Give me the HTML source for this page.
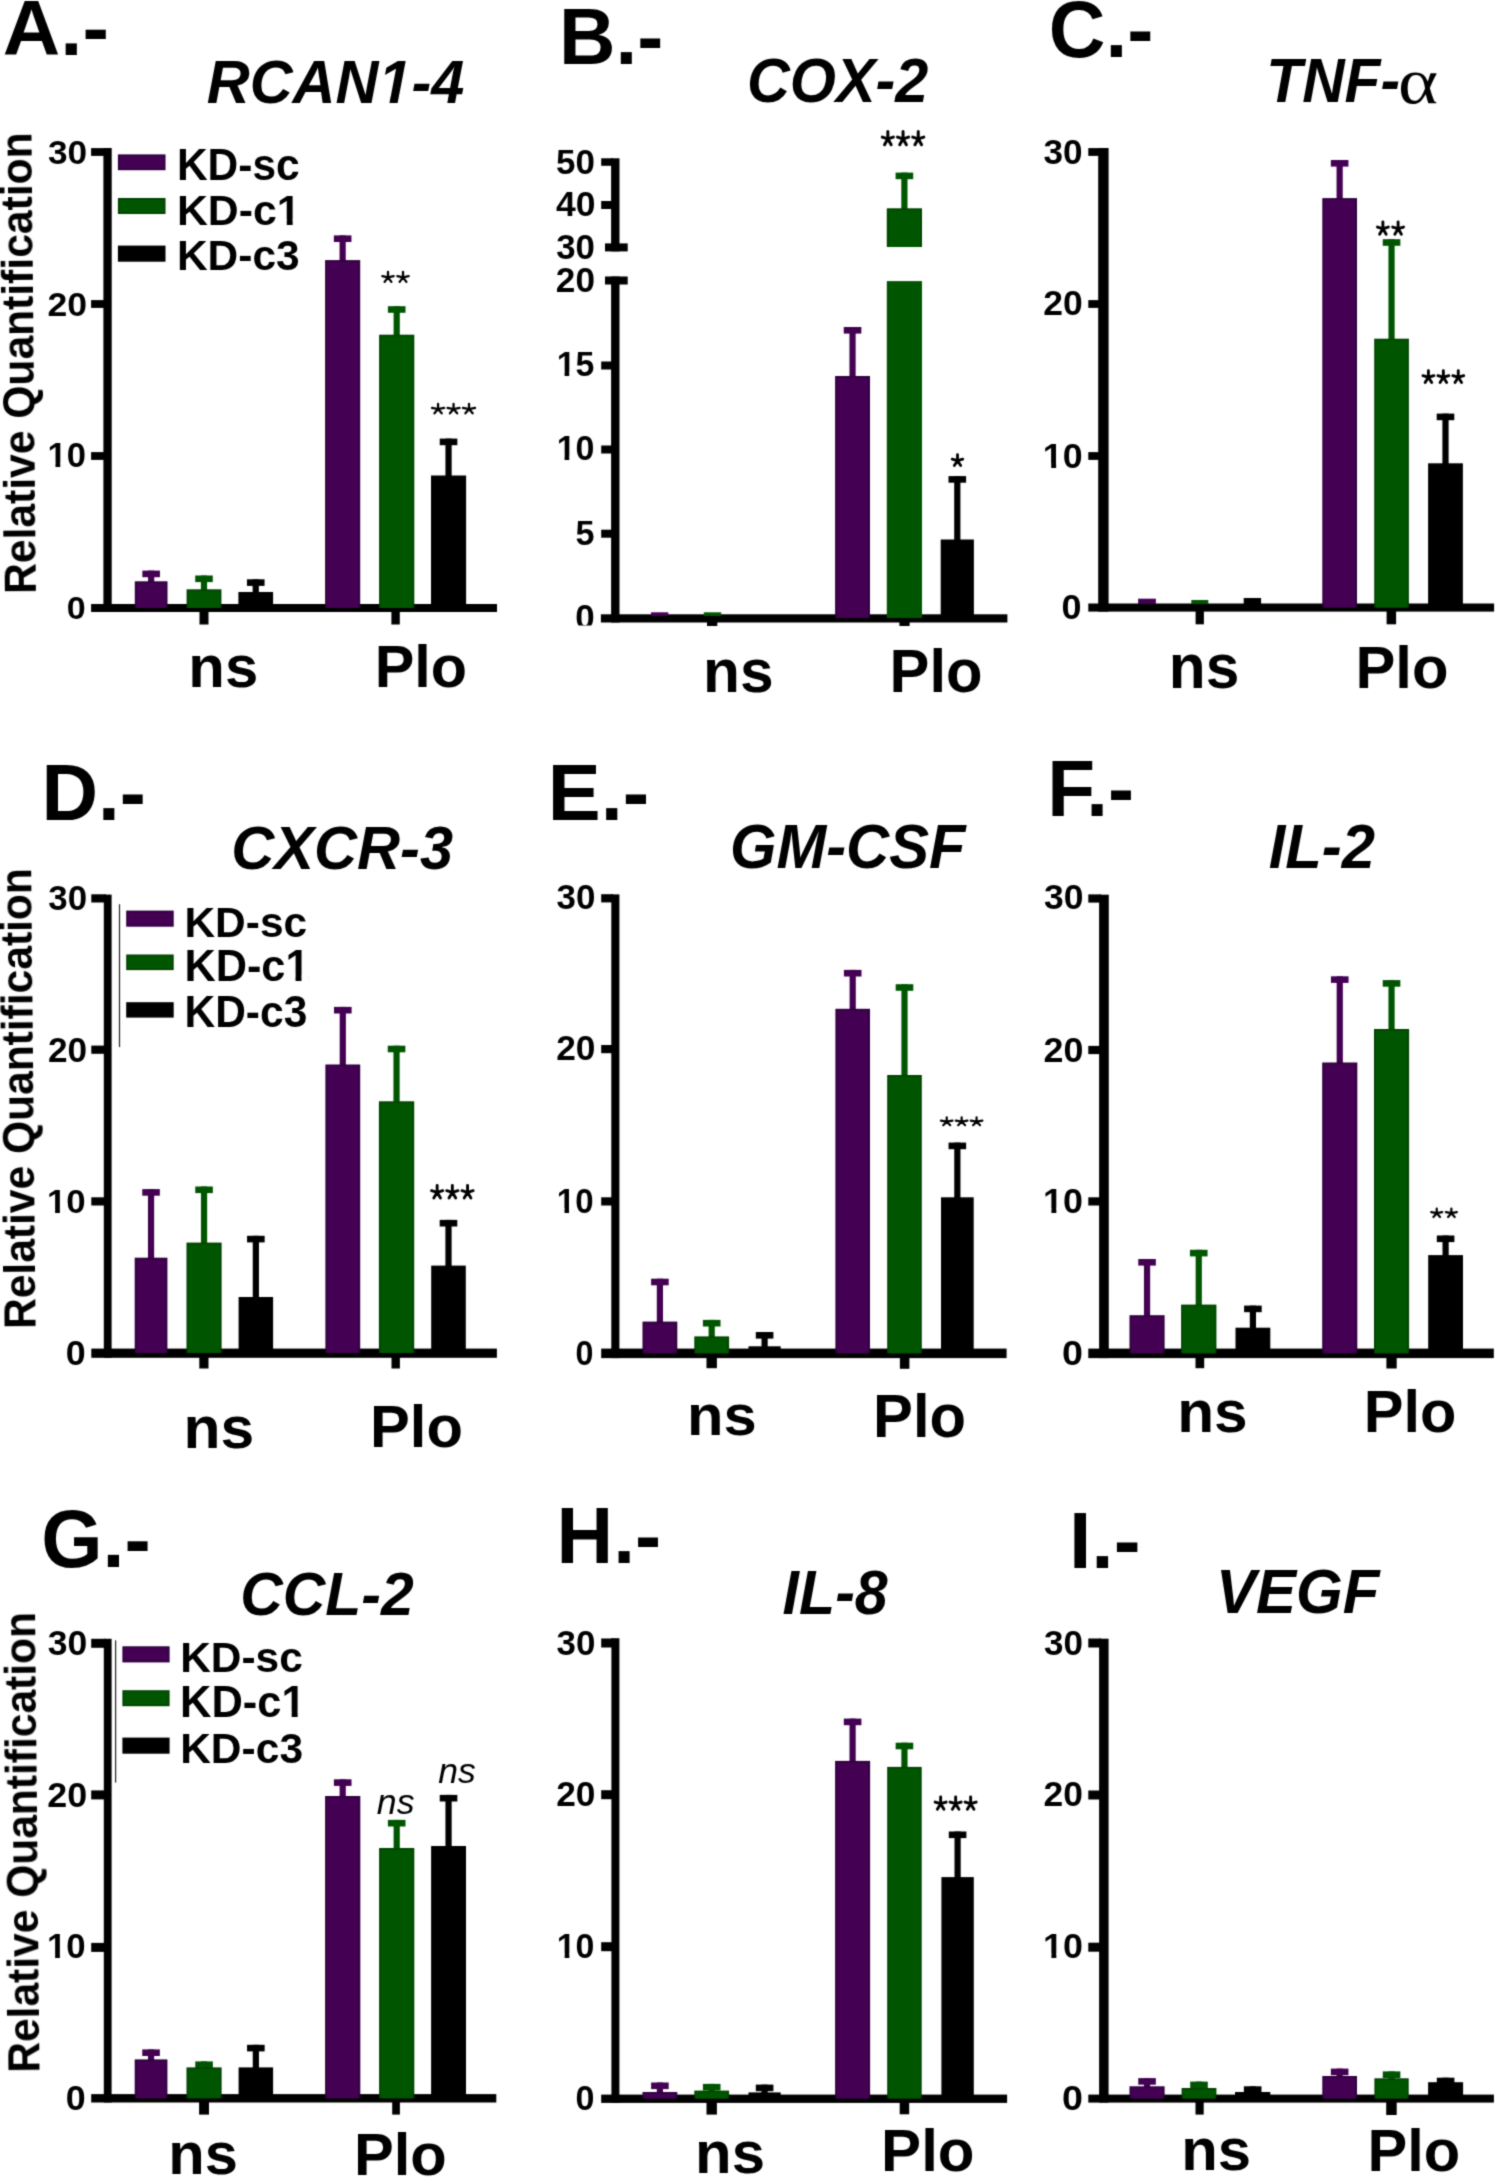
<!DOCTYPE html>
<html><head><meta charset="utf-8"><style>html,body{margin:0;padding:0;background:#fff;}svg{display:block;}</style></head>
<body><svg width="1496" height="2177" viewBox="0 0 1496 2177">
<defs><filter id="soft" x="0" y="0" width="1496" height="2177" filterUnits="userSpaceOnUse" color-interpolation-filters="sRGB"><feConvolveMatrix order="3" kernelMatrix="1 4 1 4 16 4 1 4 1" edgeMode="duplicate"/></filter></defs>
<g filter="url(#soft)">
<rect width="1496" height="2177" fill="#fff"/>
<rect x="103.40" y="148.00" width="8.30" height="464.00" fill="#000"/>
<rect x="91.10" y="148.10" width="14.30" height="7.80" fill="#000"/>
<rect x="91.10" y="300.10" width="14.30" height="7.80" fill="#000"/>
<rect x="91.10" y="452.10" width="14.30" height="7.80" fill="#000"/>
<rect x="91.10" y="604.00" width="405.90" height="8.00" fill="#000"/>
<rect x="117.90" y="154.40" width="47.60" height="15.80" fill="#2c003c"/>
<rect x="119.40" y="155.90" width="44.60" height="12.80" fill="#440052"/>
<rect x="117.90" y="198.00" width="47.60" height="16.00" fill="#004200"/>
<rect x="119.40" y="199.50" width="44.60" height="13.00" fill="#005500"/>
<rect x="117.90" y="245.60" width="47.60" height="16.10" fill="#000000"/>
<rect x="148.05" y="570.60" width="6.20" height="11.70" fill="#440052"/>
<rect x="142.35" y="570.60" width="17.60" height="6.60" fill="#440052"/>
<rect x="134.80" y="581.30" width="32.70" height="26.70" fill="#2c003c"/>
<rect x="136.30" y="582.80" width="29.70" height="25.20" fill="#440052"/>
<rect x="200.90" y="575.50" width="6.20" height="14.80" fill="#005500"/>
<rect x="195.20" y="575.50" width="17.60" height="6.60" fill="#005500"/>
<rect x="186.60" y="589.30" width="34.80" height="18.70" fill="#004200"/>
<rect x="188.10" y="590.80" width="31.80" height="17.20" fill="#005500"/>
<rect x="252.65" y="579.30" width="6.20" height="13.70" fill="#000000"/>
<rect x="246.95" y="579.30" width="17.60" height="6.60" fill="#000000"/>
<rect x="238.40" y="592.00" width="34.70" height="16.00" fill="#000000"/>
<rect x="339.55" y="235.40" width="6.20" height="25.70" fill="#440052"/>
<rect x="333.85" y="235.40" width="17.60" height="6.60" fill="#440052"/>
<rect x="325.10" y="260.10" width="35.10" height="347.90" fill="#2c003c"/>
<rect x="326.60" y="261.60" width="32.10" height="346.40" fill="#440052"/>
<rect x="393.60" y="306.20" width="6.20" height="29.50" fill="#005500"/>
<rect x="387.90" y="306.20" width="17.60" height="6.60" fill="#005500"/>
<rect x="379.10" y="334.70" width="35.20" height="273.30" fill="#004200"/>
<rect x="380.60" y="336.20" width="32.20" height="271.80" fill="#005500"/>
<rect x="445.45" y="438.60" width="6.20" height="37.90" fill="#000000"/>
<rect x="439.75" y="438.60" width="17.60" height="6.60" fill="#000000"/>
<rect x="431.00" y="475.50" width="35.10" height="132.50" fill="#000000"/>
<rect x="199.50" y="612.00" width="9.00" height="12.50" fill="#000"/>
<rect x="391.40" y="612.00" width="8.40" height="12.50" fill="#000"/>
<rect x="611.10" y="158.30" width="8.40" height="93.10" fill="#000"/>
<rect x="611.10" y="276.50" width="8.40" height="346.00" fill="#000"/>
<rect x="601.20" y="158.30" width="11.90" height="7.50" fill="#000"/>
<rect x="601.20" y="201.00" width="11.90" height="8.00" fill="#000"/>
<rect x="605.00" y="243.40" width="22.70" height="8.00" fill="#000"/>
<rect x="605.00" y="276.50" width="22.70" height="8.00" fill="#000"/>
<rect x="601.20" y="361.50" width="11.90" height="8.00" fill="#000"/>
<rect x="601.20" y="445.50" width="11.90" height="8.00" fill="#000"/>
<rect x="601.20" y="529.70" width="11.90" height="8.00" fill="#000"/>
<rect x="600.90" y="614.30" width="406.50" height="8.20" fill="#000"/>
<rect x="651.00" y="612.30" width="17.30" height="3.70" fill="#440052"/>
<rect x="703.80" y="612.30" width="17.40" height="3.70" fill="#005500"/>
<rect x="849.45" y="327.00" width="6.20" height="50.00" fill="#440052"/>
<rect x="843.75" y="327.00" width="17.60" height="6.60" fill="#440052"/>
<rect x="835.10" y="376.00" width="34.90" height="242.00" fill="#2c003c"/>
<rect x="836.60" y="377.50" width="31.90" height="240.50" fill="#440052"/>
<rect x="886.80" y="281.10" width="35.20" height="336.90" fill="#005500"/>
<rect x="901.30" y="172.60" width="6.20" height="36.70" fill="#005500"/>
<rect x="895.60" y="172.60" width="17.60" height="6.60" fill="#005500"/>
<rect x="886.80" y="208.30" width="35.20" height="38.70" fill="#004200"/>
<rect x="888.30" y="209.80" width="32.20" height="37.20" fill="#005500"/>
<rect x="954.20" y="476.10" width="6.20" height="64.40" fill="#000000"/>
<rect x="948.50" y="476.10" width="17.60" height="6.60" fill="#000000"/>
<rect x="940.70" y="539.50" width="33.20" height="78.50" fill="#000000"/>
<rect x="707.00" y="622.00" width="10.30" height="4.00" fill="#000"/>
<rect x="899.40" y="622.00" width="10.20" height="4.00" fill="#000"/>
<rect x="1098.20" y="148.00" width="10.40" height="463.60" fill="#000"/>
<rect x="1088.30" y="148.10" width="11.90" height="7.80" fill="#000"/>
<rect x="1088.30" y="300.10" width="11.90" height="7.80" fill="#000"/>
<rect x="1088.30" y="452.10" width="11.90" height="7.80" fill="#000"/>
<rect x="1088.30" y="603.50" width="405.80" height="8.10" fill="#000"/>
<rect x="1138.10" y="598.70" width="17.80" height="5.30" fill="#440052"/>
<rect x="1191.30" y="600.00" width="17.00" height="4.00" fill="#005500"/>
<rect x="1243.70" y="598.00" width="17.40" height="6.00" fill="#000000"/>
<rect x="1336.55" y="160.00" width="6.20" height="39.10" fill="#440052"/>
<rect x="1330.85" y="160.00" width="17.60" height="6.60" fill="#440052"/>
<rect x="1322.30" y="198.10" width="34.70" height="409.40" fill="#2c003c"/>
<rect x="1323.80" y="199.60" width="31.70" height="407.90" fill="#440052"/>
<rect x="1388.45" y="239.20" width="6.20" height="100.50" fill="#005500"/>
<rect x="1382.75" y="239.20" width="17.60" height="6.60" fill="#005500"/>
<rect x="1374.20" y="338.70" width="34.70" height="268.80" fill="#004200"/>
<rect x="1375.70" y="340.20" width="31.70" height="267.30" fill="#005500"/>
<rect x="1442.40" y="413.60" width="6.20" height="50.70" fill="#000000"/>
<rect x="1436.70" y="413.60" width="17.60" height="6.60" fill="#000000"/>
<rect x="1428.10" y="463.30" width="34.80" height="144.20" fill="#000000"/>
<rect x="1195.60" y="611.00" width="8.30" height="13.30" fill="#000"/>
<rect x="1386.60" y="611.00" width="9.50" height="13.30" fill="#000"/>
<rect x="103.80" y="894.60" width="7.80" height="463.20" fill="#000"/>
<rect x="91.30" y="894.30" width="14.50" height="8.20" fill="#000"/>
<rect x="91.30" y="1045.60" width="14.50" height="8.20" fill="#000"/>
<rect x="91.30" y="1197.30" width="14.50" height="8.20" fill="#000"/>
<rect x="91.30" y="1348.60" width="405.60" height="9.20" fill="#000"/>
<rect x="126.20" y="910.60" width="47.50" height="16.10" fill="#2c003c"/>
<rect x="127.70" y="912.10" width="44.50" height="13.10" fill="#440052"/>
<rect x="126.20" y="954.50" width="47.50" height="15.60" fill="#004200"/>
<rect x="127.70" y="956.00" width="44.50" height="12.60" fill="#005500"/>
<rect x="126.20" y="1002.20" width="47.50" height="15.40" fill="#000000"/>
<rect x="118.90" y="904.20" width="1.20" height="142.90" fill="#222"/>
<rect x="147.95" y="1189.10" width="6.20" height="69.60" fill="#440052"/>
<rect x="142.25" y="1189.10" width="17.60" height="6.60" fill="#440052"/>
<rect x="134.70" y="1257.70" width="32.70" height="95.30" fill="#2c003c"/>
<rect x="136.20" y="1259.20" width="29.70" height="93.80" fill="#440052"/>
<rect x="200.95" y="1186.50" width="6.20" height="57.10" fill="#005500"/>
<rect x="195.25" y="1186.50" width="17.60" height="6.60" fill="#005500"/>
<rect x="186.50" y="1242.60" width="35.10" height="110.40" fill="#004200"/>
<rect x="188.00" y="1244.10" width="32.10" height="108.90" fill="#005500"/>
<rect x="252.75" y="1235.80" width="6.20" height="62.20" fill="#000000"/>
<rect x="247.05" y="1235.80" width="17.60" height="6.60" fill="#000000"/>
<rect x="238.60" y="1297.00" width="34.50" height="56.00" fill="#000000"/>
<rect x="339.70" y="1006.90" width="6.20" height="58.60" fill="#440052"/>
<rect x="334.00" y="1006.90" width="17.60" height="6.60" fill="#440052"/>
<rect x="325.40" y="1064.50" width="34.80" height="288.50" fill="#2c003c"/>
<rect x="326.90" y="1066.00" width="31.80" height="287.00" fill="#440052"/>
<rect x="393.45" y="1045.70" width="6.20" height="56.60" fill="#005500"/>
<rect x="387.75" y="1045.70" width="17.60" height="6.60" fill="#005500"/>
<rect x="378.90" y="1101.30" width="35.30" height="251.70" fill="#004200"/>
<rect x="380.40" y="1102.80" width="32.30" height="250.20" fill="#005500"/>
<rect x="445.40" y="1219.90" width="6.20" height="46.70" fill="#000000"/>
<rect x="439.70" y="1219.90" width="17.60" height="6.60" fill="#000000"/>
<rect x="431.20" y="1265.60" width="34.60" height="87.40" fill="#000000"/>
<rect x="199.30" y="1357.00" width="9.20" height="11.50" fill="#000"/>
<rect x="391.50" y="1357.00" width="8.40" height="11.50" fill="#000"/>
<rect x="611.30" y="894.40" width="8.10" height="463.70" fill="#000"/>
<rect x="601.20" y="894.20" width="12.10" height="8.20" fill="#000"/>
<rect x="601.20" y="1045.00" width="12.10" height="8.20" fill="#000"/>
<rect x="601.20" y="1197.30" width="12.10" height="8.20" fill="#000"/>
<rect x="601.20" y="1348.60" width="405.40" height="9.50" fill="#000"/>
<rect x="656.80" y="1278.70" width="6.20" height="43.90" fill="#440052"/>
<rect x="651.10" y="1278.70" width="17.60" height="6.60" fill="#440052"/>
<rect x="642.50" y="1321.60" width="34.80" height="31.70" fill="#2c003c"/>
<rect x="644.00" y="1323.10" width="31.80" height="30.20" fill="#440052"/>
<rect x="708.60" y="1319.90" width="6.20" height="17.50" fill="#005500"/>
<rect x="702.90" y="1319.90" width="17.60" height="6.60" fill="#005500"/>
<rect x="694.30" y="1336.40" width="34.80" height="16.90" fill="#004200"/>
<rect x="695.80" y="1337.90" width="31.80" height="15.40" fill="#005500"/>
<rect x="761.50" y="1332.00" width="6.20" height="15.30" fill="#000000"/>
<rect x="755.80" y="1332.00" width="17.60" height="6.60" fill="#000000"/>
<rect x="748.50" y="1346.30" width="32.20" height="7.00" fill="#000000"/>
<rect x="849.60" y="969.90" width="6.20" height="39.90" fill="#440052"/>
<rect x="843.90" y="969.90" width="17.60" height="6.60" fill="#440052"/>
<rect x="835.40" y="1008.80" width="34.60" height="344.50" fill="#2c003c"/>
<rect x="836.90" y="1010.30" width="31.60" height="343.00" fill="#440052"/>
<rect x="901.40" y="984.20" width="6.20" height="91.80" fill="#005500"/>
<rect x="895.70" y="984.20" width="17.60" height="6.60" fill="#005500"/>
<rect x="887.20" y="1075.00" width="34.60" height="278.30" fill="#004200"/>
<rect x="888.70" y="1076.50" width="31.60" height="276.80" fill="#005500"/>
<rect x="954.25" y="1142.60" width="6.20" height="55.70" fill="#000000"/>
<rect x="948.55" y="1142.60" width="17.60" height="6.60" fill="#000000"/>
<rect x="941.00" y="1197.30" width="32.70" height="156.00" fill="#000000"/>
<rect x="706.50" y="1357.00" width="10.40" height="11.20" fill="#000"/>
<rect x="899.90" y="1357.00" width="9.50" height="11.80" fill="#000"/>
<rect x="1099.10" y="894.70" width="9.70" height="463.40" fill="#000"/>
<rect x="1088.30" y="894.40" width="12.80" height="8.20" fill="#000"/>
<rect x="1088.30" y="1045.90" width="12.80" height="8.20" fill="#000"/>
<rect x="1088.30" y="1197.30" width="12.80" height="8.20" fill="#000"/>
<rect x="1088.30" y="1348.60" width="405.50" height="9.50" fill="#000"/>
<rect x="1143.95" y="1259.00" width="6.20" height="57.20" fill="#440052"/>
<rect x="1138.25" y="1259.00" width="17.60" height="6.60" fill="#440052"/>
<rect x="1129.50" y="1315.20" width="35.10" height="38.10" fill="#2c003c"/>
<rect x="1131.00" y="1316.70" width="32.10" height="36.60" fill="#440052"/>
<rect x="1195.65" y="1249.80" width="6.20" height="55.80" fill="#005500"/>
<rect x="1189.95" y="1249.80" width="17.60" height="6.60" fill="#005500"/>
<rect x="1181.10" y="1304.60" width="35.30" height="48.70" fill="#004200"/>
<rect x="1182.60" y="1306.10" width="32.30" height="47.20" fill="#005500"/>
<rect x="1249.80" y="1305.60" width="6.20" height="23.10" fill="#000000"/>
<rect x="1244.10" y="1305.60" width="17.60" height="6.60" fill="#000000"/>
<rect x="1235.50" y="1327.70" width="34.80" height="25.60" fill="#000000"/>
<rect x="1336.65" y="976.30" width="6.20" height="87.20" fill="#440052"/>
<rect x="1330.95" y="976.30" width="17.60" height="6.60" fill="#440052"/>
<rect x="1322.20" y="1062.50" width="35.10" height="290.80" fill="#2c003c"/>
<rect x="1323.70" y="1064.00" width="32.10" height="289.30" fill="#440052"/>
<rect x="1388.45" y="980.10" width="6.20" height="49.90" fill="#005500"/>
<rect x="1382.75" y="980.10" width="17.60" height="6.60" fill="#005500"/>
<rect x="1374.00" y="1029.00" width="35.10" height="324.30" fill="#004200"/>
<rect x="1375.50" y="1030.50" width="32.10" height="322.80" fill="#005500"/>
<rect x="1442.50" y="1235.50" width="6.20" height="20.60" fill="#000000"/>
<rect x="1436.80" y="1235.50" width="17.60" height="6.60" fill="#000000"/>
<rect x="1428.20" y="1255.10" width="34.80" height="98.20" fill="#000000"/>
<rect x="1195.50" y="1357.00" width="8.70" height="11.20" fill="#000"/>
<rect x="1386.40" y="1357.00" width="10.30" height="11.50" fill="#000"/>
<rect x="103.80" y="1638.80" width="7.80" height="463.70" fill="#000"/>
<rect x="91.20" y="1638.80" width="14.60" height="9.00" fill="#000"/>
<rect x="91.20" y="1790.40" width="14.60" height="9.00" fill="#000"/>
<rect x="91.20" y="1942.90" width="14.60" height="9.00" fill="#000"/>
<rect x="91.20" y="2094.10" width="405.10" height="8.40" fill="#000"/>
<rect x="122.40" y="1646.30" width="47.20" height="16.10" fill="#2c003c"/>
<rect x="123.90" y="1647.80" width="44.20" height="13.10" fill="#440052"/>
<rect x="122.40" y="1690.20" width="47.20" height="16.00" fill="#004200"/>
<rect x="123.90" y="1691.70" width="44.20" height="13.00" fill="#005500"/>
<rect x="122.40" y="1737.60" width="47.20" height="16.10" fill="#000000"/>
<rect x="115.00" y="1640.30" width="1.20" height="142.30" fill="#222"/>
<rect x="147.95" y="2049.40" width="6.20" height="11.00" fill="#440052"/>
<rect x="142.25" y="2049.40" width="17.60" height="6.60" fill="#440052"/>
<rect x="134.70" y="2059.40" width="32.70" height="38.90" fill="#2c003c"/>
<rect x="136.20" y="2060.90" width="29.70" height="37.40" fill="#440052"/>
<rect x="200.95" y="2061.40" width="6.20" height="7.00" fill="#005500"/>
<rect x="195.25" y="2061.40" width="17.60" height="6.60" fill="#005500"/>
<rect x="186.50" y="2067.40" width="35.10" height="30.90" fill="#004200"/>
<rect x="188.00" y="2068.90" width="32.10" height="29.40" fill="#005500"/>
<rect x="252.75" y="2044.80" width="6.20" height="23.60" fill="#000000"/>
<rect x="247.05" y="2044.80" width="17.60" height="6.60" fill="#000000"/>
<rect x="238.60" y="2067.40" width="34.50" height="30.90" fill="#000000"/>
<rect x="339.60" y="1779.30" width="6.20" height="17.70" fill="#440052"/>
<rect x="333.90" y="1779.30" width="17.60" height="6.60" fill="#440052"/>
<rect x="325.10" y="1796.00" width="35.20" height="302.30" fill="#2c003c"/>
<rect x="326.60" y="1797.50" width="32.20" height="300.80" fill="#440052"/>
<rect x="393.60" y="1819.90" width="6.20" height="29.10" fill="#005500"/>
<rect x="387.90" y="1819.90" width="17.60" height="6.60" fill="#005500"/>
<rect x="379.10" y="1848.00" width="35.20" height="250.30" fill="#004200"/>
<rect x="380.60" y="1849.50" width="32.20" height="248.80" fill="#005500"/>
<rect x="445.45" y="1794.90" width="6.20" height="52.10" fill="#000000"/>
<rect x="439.75" y="1794.90" width="17.60" height="6.60" fill="#000000"/>
<rect x="431.10" y="1846.00" width="34.90" height="252.30" fill="#000000"/>
<rect x="199.10" y="2102.00" width="9.90" height="12.60" fill="#000"/>
<rect x="392.20" y="2102.00" width="7.70" height="12.60" fill="#000"/>
<rect x="611.40" y="1638.20" width="8.00" height="464.70" fill="#000"/>
<rect x="601.20" y="1638.50" width="12.20" height="9.00" fill="#000"/>
<rect x="601.20" y="1790.20" width="12.20" height="9.00" fill="#000"/>
<rect x="601.20" y="1942.20" width="12.20" height="9.00" fill="#000"/>
<rect x="601.20" y="2094.60" width="405.90" height="8.30" fill="#000"/>
<rect x="656.80" y="2082.50" width="6.20" height="10.50" fill="#440052"/>
<rect x="651.10" y="2082.50" width="17.60" height="6.60" fill="#440052"/>
<rect x="642.50" y="2092.00" width="34.80" height="6.50" fill="#2c003c"/>
<rect x="644.00" y="2093.50" width="31.80" height="5.00" fill="#440052"/>
<rect x="708.60" y="2083.90" width="6.20" height="7.70" fill="#005500"/>
<rect x="702.90" y="2083.90" width="17.60" height="6.60" fill="#005500"/>
<rect x="694.30" y="2090.60" width="34.80" height="7.90" fill="#004200"/>
<rect x="695.80" y="2092.10" width="31.80" height="6.40" fill="#005500"/>
<rect x="761.50" y="2084.60" width="6.20" height="8.80" fill="#000000"/>
<rect x="755.80" y="2084.60" width="17.60" height="6.60" fill="#000000"/>
<rect x="748.50" y="2092.40" width="32.20" height="6.10" fill="#000000"/>
<rect x="849.50" y="1718.60" width="6.20" height="43.30" fill="#440052"/>
<rect x="843.80" y="1718.60" width="17.60" height="6.60" fill="#440052"/>
<rect x="835.10" y="1760.90" width="35.00" height="337.60" fill="#2c003c"/>
<rect x="836.60" y="1762.40" width="32.00" height="336.10" fill="#440052"/>
<rect x="901.35" y="1742.70" width="6.20" height="25.20" fill="#005500"/>
<rect x="895.65" y="1742.70" width="17.60" height="6.60" fill="#005500"/>
<rect x="887.20" y="1766.90" width="34.50" height="331.60" fill="#004200"/>
<rect x="888.70" y="1768.40" width="31.50" height="330.10" fill="#005500"/>
<rect x="954.50" y="1831.50" width="6.20" height="46.60" fill="#000000"/>
<rect x="948.80" y="1831.50" width="17.60" height="6.60" fill="#000000"/>
<rect x="941.40" y="1877.10" width="32.40" height="221.40" fill="#000000"/>
<rect x="706.50" y="2102.00" width="10.40" height="12.60" fill="#000"/>
<rect x="899.70" y="2102.00" width="9.50" height="12.30" fill="#000"/>
<rect x="1099.10" y="1638.70" width="9.50" height="463.90" fill="#000"/>
<rect x="1088.30" y="1638.50" width="12.80" height="9.00" fill="#000"/>
<rect x="1088.30" y="1790.50" width="12.80" height="9.00" fill="#000"/>
<rect x="1088.30" y="1942.70" width="12.80" height="9.00" fill="#000"/>
<rect x="1088.30" y="2094.60" width="405.60" height="8.00" fill="#000"/>
<rect x="1143.95" y="2078.10" width="6.20" height="9.20" fill="#440052"/>
<rect x="1138.25" y="2078.10" width="17.60" height="6.60" fill="#440052"/>
<rect x="1129.50" y="2086.30" width="35.10" height="12.20" fill="#2c003c"/>
<rect x="1131.00" y="2087.80" width="32.10" height="10.70" fill="#440052"/>
<rect x="1195.90" y="2081.60" width="6.20" height="7.40" fill="#005500"/>
<rect x="1190.20" y="2081.60" width="17.60" height="6.60" fill="#005500"/>
<rect x="1181.60" y="2088.00" width="34.80" height="10.50" fill="#004200"/>
<rect x="1183.10" y="2089.50" width="31.80" height="9.00" fill="#005500"/>
<rect x="1249.55" y="2086.30" width="6.20" height="6.70" fill="#000000"/>
<rect x="1243.85" y="2086.30" width="17.60" height="6.60" fill="#000000"/>
<rect x="1235.00" y="2092.00" width="35.30" height="6.50" fill="#000000"/>
<rect x="1336.55" y="2068.60" width="6.20" height="8.40" fill="#440052"/>
<rect x="1330.85" y="2068.60" width="17.60" height="6.60" fill="#440052"/>
<rect x="1322.30" y="2076.00" width="34.70" height="22.50" fill="#2c003c"/>
<rect x="1323.80" y="2077.50" width="31.70" height="21.00" fill="#440052"/>
<rect x="1388.45" y="2071.40" width="6.20" height="7.90" fill="#005500"/>
<rect x="1382.75" y="2071.40" width="17.60" height="6.60" fill="#005500"/>
<rect x="1374.40" y="2078.30" width="34.30" height="20.20" fill="#004200"/>
<rect x="1375.90" y="2079.80" width="31.30" height="18.70" fill="#005500"/>
<rect x="1442.50" y="2077.70" width="6.20" height="5.50" fill="#000000"/>
<rect x="1436.80" y="2077.70" width="17.60" height="6.60" fill="#000000"/>
<rect x="1428.10" y="2082.20" width="35.00" height="16.30" fill="#000000"/>
<rect x="1195.50" y="2102.00" width="8.20" height="12.60" fill="#000"/>
<rect x="1386.20" y="2102.00" width="10.50" height="13.00" fill="#000"/>
<g style="filter:grayscale(1)">
<text transform="translate(2.81,55.20) scale(1.0248,1)" font-family="Liberation Sans" font-size="77.68" font-weight="bold" font-style="normal" fill="#000" >A.-</text>
<text transform="translate(206.71,102.68) scale(0.9617,1)" font-family="Liberation Sans" font-size="61.83" font-weight="bold" font-style="italic" fill="#000" >RCAN1-4</text>
<text transform="translate(35.90,593.77) rotate(-90.553) scale(0.9706,1)" font-family="Liberation Sans" font-size="43.91" font-weight="bold">Relative Quantification</text>
<text transform="translate(47.92,163.66) scale(1.0418,1)" font-family="Liberation Sans" font-size="33.80" font-weight="bold" font-style="normal" fill="#000" >30</text>
<text transform="translate(47.56,315.66) scale(1.0519,1)" font-family="Liberation Sans" font-size="33.80" font-weight="bold" font-style="normal" fill="#000" >20</text>
<text transform="translate(47.43,467.15) scale(0.9893,1)" font-family="Liberation Sans" font-size="34.93" font-weight="bold" font-style="normal" fill="#000" >10</text>
<text transform="translate(66.84,618.78) scale(1.0667,1)" font-family="Liberation Sans" font-size="31.97" font-weight="bold" font-style="normal" fill="#000" >0</text>
<text transform="translate(176.94,180.16) scale(0.9715,1)" font-family="Liberation Sans" font-size="43.71" font-weight="bold" font-style="normal" fill="#000" >KD-sc</text>
<text transform="translate(176.92,225.07) scale(0.9921,1)" font-family="Liberation Sans" font-size="43.14" font-weight="bold" font-style="normal" fill="#000" >KD-c1</text>
<text transform="translate(176.94,270.17) scale(0.9952,1)" font-family="Liberation Sans" font-size="42.68" font-weight="bold" font-style="normal" fill="#000" >KD-c3</text>
<text transform="translate(188.31,687.11) scale(1.0076,1)" font-family="Liberation Sans" font-size="59.45" font-weight="bold" font-style="normal" fill="#000" >ns</text>
<text transform="translate(374.74,687.31) scale(1.0103,1)" font-family="Liberation Sans" font-size="58.78" font-weight="bold" font-style="normal" fill="#000" >Plo</text>
<path d="M387.99,277.35L387.99,271.85M387.99,277.35L382.35,276.05M387.99,277.35L393.63,276.05M387.99,277.35L384.61,281.85M387.99,277.35L391.38,281.85" stroke="#000" stroke-width="2.3" stroke-linecap="round" fill="none"/>
<path d="M403.01,277.35L403.01,271.85M403.01,277.35L397.36,276.05M403.01,277.35L408.65,276.05M403.01,277.35L399.62,281.85M403.01,277.35L406.39,281.85" stroke="#000" stroke-width="2.3" stroke-linecap="round" fill="none"/>
<path d="M438.07,409.12L438.07,403.95M438.07,409.12L432.05,407.90M438.07,409.12L444.09,407.90M438.07,409.12L434.46,413.35M438.07,409.12L441.69,413.35" stroke="#000" stroke-width="2.3" stroke-linecap="round" fill="none"/>
<path d="M453.55,409.12L453.55,403.95M453.55,409.12L447.53,407.90M453.55,409.12L459.57,407.90M453.55,409.12L449.94,413.35M453.55,409.12L457.16,413.35" stroke="#000" stroke-width="2.3" stroke-linecap="round" fill="none"/>
<path d="M469.03,409.12L469.03,403.95M469.03,409.12L463.00,407.90M469.03,409.12L475.05,407.90M469.03,409.12L465.41,413.35M469.03,409.12L472.64,413.35" stroke="#000" stroke-width="2.3" stroke-linecap="round" fill="none"/>
<text transform="translate(559.02,64.20) scale(0.9848,1)" font-family="Liberation Sans" font-size="79.42" font-weight="bold" font-style="normal" fill="#000" >B.-</text>
<text transform="translate(746.93,102.28) scale(0.9558,1)" font-family="Liberation Sans" font-size="62.11" font-weight="bold" font-style="italic" fill="#000" >COX-2</text>
<text transform="translate(556.05,174.05) scale(1.0102,1)" font-family="Liberation Sans" font-size="34.65" font-weight="bold" font-style="normal" fill="#000" >50</text>
<text transform="translate(556.07,215.75) scale(1.0232,1)" font-family="Liberation Sans" font-size="34.65" font-weight="bold" font-style="normal" fill="#000" >40</text>
<text transform="translate(556.23,258.55) scale(0.9814,1)" font-family="Liberation Sans" font-size="35.49" font-weight="bold" font-style="normal" fill="#000" >30</text>
<text transform="translate(555.87,292.25) scale(0.9909,1)" font-family="Liberation Sans" font-size="35.49" font-weight="bold" font-style="normal" fill="#000" >20</text>
<text transform="translate(556.66,376.15) scale(0.9700,1)" font-family="Liberation Sans" font-size="35.00" font-weight="bold" font-style="normal" fill="#000" >15</text>
<text transform="translate(556.66,460.15) scale(0.9802,1)" font-family="Liberation Sans" font-size="34.65" font-weight="bold" font-style="normal" fill="#000" >10</text>
<text transform="translate(575.57,545.35) scale(0.9653,1)" font-family="Liberation Sans" font-size="35.43" font-weight="bold" font-style="normal" fill="#000" >5</text>
<clipPath id="c0"><rect x="560" y="590" width="40" height="35.6"/></clipPath>
<g clip-path="url(#c0)">
<text transform="translate(575.20,628.95) scale(1.0086,1)" font-family="Liberation Sans" font-size="34.65" font-weight="bold" font-style="normal" fill="#000" >0</text>
</g>
<text transform="translate(702.97,691.59) scale(0.9958,1)" font-family="Liberation Sans" font-size="60.73" font-weight="bold" font-style="normal" fill="#000" >ns</text>
<text transform="translate(889.61,691.89) scale(0.9854,1)" font-family="Liberation Sans" font-size="60.68" font-weight="bold" font-style="normal" fill="#000" >Plo</text>
<path d="M887.85,138.81L887.85,131.50M887.85,138.81L882.30,137.09M887.85,138.81L893.39,137.09M887.85,138.81L884.52,144.80M887.85,138.81L891.17,144.80" stroke="#000" stroke-width="3.0" stroke-linecap="round" fill="none"/>
<path d="M903.05,138.81L903.05,131.50M903.05,138.81L897.50,137.09M903.05,138.81L908.60,137.09M903.05,138.81L899.72,144.80M903.05,138.81L906.38,144.80" stroke="#000" stroke-width="3.0" stroke-linecap="round" fill="none"/>
<path d="M918.25,138.81L918.25,131.50M918.25,138.81L912.71,137.09M918.25,138.81L923.80,137.09M918.25,138.81L914.93,144.80M918.25,138.81L921.58,144.80" stroke="#000" stroke-width="3.0" stroke-linecap="round" fill="none"/>
<path d="M957.50,460.65L957.50,454.60M957.50,460.65L952.20,459.22M957.50,460.65L962.80,459.22M957.50,460.65L954.32,465.60M957.50,460.65L960.68,465.60" stroke="#000" stroke-width="2.8" stroke-linecap="round" fill="none"/>
<text transform="translate(1048.86,57.10) scale(0.9828,1)" font-family="Liberation Sans" font-size="79.86" font-weight="bold" font-style="normal" fill="#000" >C.-</text>
<text transform="translate(1266.29,102.40) scale(0.9466,1)" font-family="Liberation Sans" font-size="62.03" font-weight="bold" font-style="italic" fill="#000" >TNF-</text>
<text transform="translate(1397.94,103.45) scale(1.1810,1)" font-family="Liberation Serif" font-size="64.79" font-weight="normal" font-style="normal" fill="#000" >α</text>
<text transform="translate(1043.52,163.65) scale(1.0014,1)" font-family="Liberation Sans" font-size="35.07" font-weight="bold" font-style="normal" fill="#000" >30</text>
<text transform="translate(1043.16,315.25) scale(1.0234,1)" font-family="Liberation Sans" font-size="34.65" font-weight="bold" font-style="normal" fill="#000" >20</text>
<text transform="translate(1042.86,467.65) scale(1.0358,1)" font-family="Liberation Sans" font-size="34.51" font-weight="bold" font-style="normal" fill="#000" >10</text>
<text transform="translate(1061.56,619.05) scale(1.0390,1)" font-family="Liberation Sans" font-size="34.65" font-weight="bold" font-style="normal" fill="#000" >0</text>
<text transform="translate(1168.78,687.67) scale(0.9598,1)" font-family="Liberation Sans" font-size="62.91" font-weight="bold" font-style="normal" fill="#000" >ns</text>
<text transform="translate(1355.41,687.70) scale(1.0011,1)" font-family="Liberation Sans" font-size="59.73" font-weight="bold" font-style="normal" fill="#000" >Plo</text>
<path d="M1382.89,228.61L1382.89,221.85M1382.89,228.61L1377.45,227.02M1382.89,228.61L1388.33,227.02M1382.89,228.61L1379.62,234.15M1382.89,228.61L1386.15,234.15" stroke="#000" stroke-width="2.9" stroke-linecap="round" fill="none"/>
<path d="M1398.11,228.61L1398.11,221.85M1398.11,228.61L1392.67,227.02M1398.11,228.61L1403.55,227.02M1398.11,228.61L1394.85,234.15M1398.11,228.61L1401.38,234.15" stroke="#000" stroke-width="2.9" stroke-linecap="round" fill="none"/>
<path d="M1428.42,377.24L1428.42,370.75M1428.42,377.24L1422.95,375.71M1428.42,377.24L1433.89,375.71M1428.42,377.24L1425.14,382.55M1428.42,377.24L1431.70,382.55" stroke="#000" stroke-width="2.9" stroke-linecap="round" fill="none"/>
<path d="M1443.35,377.24L1443.35,370.75M1443.35,377.24L1437.88,375.71M1443.35,377.24L1448.82,375.71M1443.35,377.24L1440.07,382.55M1443.35,377.24L1446.63,382.55" stroke="#000" stroke-width="2.9" stroke-linecap="round" fill="none"/>
<path d="M1458.28,377.24L1458.28,370.75M1458.28,377.24L1452.81,375.71M1458.28,377.24L1463.75,375.71M1458.28,377.24L1455.00,382.55M1458.28,377.24L1461.56,382.55" stroke="#000" stroke-width="2.9" stroke-linecap="round" fill="none"/>
<text transform="translate(41.41,820.20) scale(0.9787,1)" font-family="Liberation Sans" font-size="80.00" font-weight="bold" font-style="normal" fill="#000" >D.-</text>
<text transform="translate(231.22,869.28) scale(0.9642,1)" font-family="Liberation Sans" font-size="61.83" font-weight="bold" font-style="italic" fill="#000" >CXCR-3</text>
<text transform="translate(35.60,1328.77) rotate(-90.553) scale(0.9594,1)" font-family="Liberation Sans" font-size="44.35" font-weight="bold">Relative Quantification</text>
<text transform="translate(48.33,910.25) scale(1.0053,1)" font-family="Liberation Sans" font-size="34.65" font-weight="bold" font-style="normal" fill="#000" >30</text>
<text transform="translate(47.97,1061.65) scale(1.0192,1)" font-family="Liberation Sans" font-size="34.51" font-weight="bold" font-style="normal" fill="#000" >20</text>
<text transform="translate(47.01,1213.26) scale(1.0238,1)" font-family="Liberation Sans" font-size="33.94" font-weight="bold" font-style="normal" fill="#000" >10</text>
<text transform="translate(65.77,1365.15) scale(1.0372,1)" font-family="Liberation Sans" font-size="34.51" font-weight="bold" font-style="normal" fill="#000" >0</text>
<text transform="translate(184.44,936.77) scale(0.9779,1)" font-family="Liberation Sans" font-size="43.43" font-weight="bold" font-style="normal" fill="#000" >KD-sc</text>
<text transform="translate(184.39,981.27) scale(0.9969,1)" font-family="Liberation Sans" font-size="43.43" font-weight="bold" font-style="normal" fill="#000" >KD-c1</text>
<text transform="translate(184.43,1026.96) scale(0.9682,1)" font-family="Liberation Sans" font-size="43.94" font-weight="bold" font-style="normal" fill="#000" >KD-c3</text>
<text transform="translate(183.56,1447.61) scale(1.0250,1)" font-family="Liberation Sans" font-size="59.09" font-weight="bold" font-style="normal" fill="#000" >ns</text>
<text transform="translate(370.02,1447.41) scale(1.0091,1)" font-family="Liberation Sans" font-size="59.18" font-weight="bold" font-style="normal" fill="#000" >Plo</text>
<path d="M437.15,1192.33L437.15,1185.45M437.15,1192.33L431.55,1190.70M437.15,1192.33L442.74,1190.70M437.15,1192.33L433.79,1197.95M437.15,1192.33L440.50,1197.95" stroke="#000" stroke-width="2.9" stroke-linecap="round" fill="none"/>
<path d="M452.35,1192.33L452.35,1185.45M452.35,1192.33L446.75,1190.70M452.35,1192.33L457.95,1190.70M452.35,1192.33L448.99,1197.95M452.35,1192.33L455.71,1197.95" stroke="#000" stroke-width="2.9" stroke-linecap="round" fill="none"/>
<path d="M467.55,1192.33L467.55,1185.45M467.55,1192.33L461.96,1190.70M467.55,1192.33L473.15,1190.70M467.55,1192.33L464.20,1197.95M467.55,1192.33L470.91,1197.95" stroke="#000" stroke-width="2.9" stroke-linecap="round" fill="none"/>
<text transform="translate(547.74,820.10) scale(0.9897,1)" font-family="Liberation Sans" font-size="80.14" font-weight="bold" font-style="normal" fill="#000" >E.-</text>
<text transform="translate(730.12,867.76) scale(0.9377,1)" font-family="Liberation Sans" font-size="63.66" font-weight="bold" font-style="italic" fill="#000" >GM-CSF</text>
<text transform="translate(556.53,909.16) scale(1.0205,1)" font-family="Liberation Sans" font-size="34.23" font-weight="bold" font-style="normal" fill="#000" >30</text>
<text transform="translate(556.17,1060.36) scale(1.0304,1)" font-family="Liberation Sans" font-size="34.23" font-weight="bold" font-style="normal" fill="#000" >20</text>
<text transform="translate(556.82,1212.66) scale(0.9633,1)" font-family="Liberation Sans" font-size="34.23" font-weight="bold" font-style="normal" fill="#000" >10</text>
<text transform="translate(575.51,1364.76) scale(0.9373,1)" font-family="Liberation Sans" font-size="34.37" font-weight="bold" font-style="normal" fill="#000" >0</text>
<text transform="translate(686.92,1435.42) scale(1.0328,1)" font-family="Liberation Sans" font-size="57.82" font-weight="bold" font-style="normal" fill="#000" >ns</text>
<text transform="translate(873.01,1436.79) scale(0.9832,1)" font-family="Liberation Sans" font-size="60.82" font-weight="bold" font-style="normal" fill="#000" >Plo</text>
<path d="M946.72,1121.69L946.72,1117.40M946.72,1121.69L940.90,1120.68M946.72,1121.69L952.54,1120.68M946.72,1121.69L943.23,1125.20M946.72,1121.69L950.21,1125.20" stroke="#000" stroke-width="2.2" stroke-linecap="round" fill="none"/>
<path d="M961.65,1121.69L961.65,1117.40M961.65,1121.69L955.83,1120.68M961.65,1121.69L967.47,1120.68M961.65,1121.69L958.16,1125.20M961.65,1121.69L965.14,1125.20" stroke="#000" stroke-width="2.2" stroke-linecap="round" fill="none"/>
<path d="M976.58,1121.69L976.58,1117.40M976.58,1121.69L970.76,1120.68M976.58,1121.69L982.40,1120.68M976.58,1121.69L973.09,1125.20M976.58,1121.69L980.07,1125.20" stroke="#000" stroke-width="2.2" stroke-linecap="round" fill="none"/>
<text transform="translate(1047.21,816.30) scale(0.9790,1)" font-family="Liberation Sans" font-size="80.00" font-weight="bold" font-style="normal" fill="#000" >F.-</text>
<text transform="translate(1268.70,867.50) scale(0.9562,1)" font-family="Liberation Sans" font-size="62.57" font-weight="bold" font-style="italic" fill="#000" >IL-2</text>
<text transform="translate(1043.91,909.15) scale(1.0288,1)" font-family="Liberation Sans" font-size="34.51" font-weight="bold" font-style="normal" fill="#000" >30</text>
<text transform="translate(1043.55,1061.65) scale(1.0388,1)" font-family="Liberation Sans" font-size="34.51" font-weight="bold" font-style="normal" fill="#000" >20</text>
<text transform="translate(1043.05,1212.66) scale(1.0472,1)" font-family="Liberation Sans" font-size="34.23" font-weight="bold" font-style="normal" fill="#000" >10</text>
<text transform="translate(1061.99,1364.76) scale(1.0965,1)" font-family="Liberation Sans" font-size="34.37" font-weight="bold" font-style="normal" fill="#000" >0</text>
<text transform="translate(1177.18,1431.91) scale(1.0155,1)" font-family="Liberation Sans" font-size="59.45" font-weight="bold" font-style="normal" fill="#000" >ns</text>
<text transform="translate(1363.73,1431.71) scale(1.0068,1)" font-family="Liberation Sans" font-size="59.18" font-weight="bold" font-style="normal" fill="#000" >Plo</text>
<path d="M1436.73,1213.17L1436.73,1208.50M1436.73,1213.17L1431.20,1212.07M1436.73,1213.17L1442.25,1212.07M1436.73,1213.17L1433.41,1217.00M1436.73,1213.17L1440.04,1217.00" stroke="#000" stroke-width="2.2" stroke-linecap="round" fill="none"/>
<path d="M1451.37,1213.17L1451.37,1208.50M1451.37,1213.17L1445.85,1212.07M1451.37,1213.17L1456.90,1212.07M1451.37,1213.17L1448.06,1217.00M1451.37,1213.17L1454.69,1217.00" stroke="#000" stroke-width="2.2" stroke-linecap="round" fill="none"/>
<text transform="translate(41.15,1566.79) scale(0.9703,1)" font-family="Liberation Sans" font-size="81.27" font-weight="bold" font-style="normal" fill="#000" >G.-</text>
<text transform="translate(240.25,1615.18) scale(0.9508,1)" font-family="Liberation Sans" font-size="61.97" font-weight="bold" font-style="italic" fill="#000" >CCL-2</text>
<text transform="translate(39.50,2072.56) rotate(-90.553) scale(0.9622,1)" font-family="Liberation Sans" font-size="44.20" font-weight="bold">Relative Quantification</text>
<text transform="translate(47.71,1655.44) scale(0.9963,1)" font-family="Liberation Sans" font-size="35.63" font-weight="bold" font-style="normal" fill="#000" >30</text>
<text transform="translate(47.35,1806.54) scale(1.0020,1)" font-family="Liberation Sans" font-size="35.77" font-weight="bold" font-style="normal" fill="#000" >20</text>
<text transform="translate(47.01,1958.25) scale(1.0071,1)" font-family="Liberation Sans" font-size="34.51" font-weight="bold" font-style="normal" fill="#000" >10</text>
<text transform="translate(65.77,2109.65) scale(1.0372,1)" font-family="Liberation Sans" font-size="34.51" font-weight="bold" font-style="normal" fill="#000" >0</text>
<text transform="translate(180.14,1672.47) scale(0.9779,1)" font-family="Liberation Sans" font-size="43.43" font-weight="bold" font-style="normal" fill="#000" >KD-sc</text>
<text transform="translate(180.07,1717.45) scale(0.9756,1)" font-family="Liberation Sans" font-size="44.57" font-weight="bold" font-style="normal" fill="#000" >KD-c1</text>
<text transform="translate(180.13,1762.67) scale(0.9807,1)" font-family="Liberation Sans" font-size="43.38" font-weight="bold" font-style="normal" fill="#000" >KD-c3</text>
<text transform="translate(168.32,2174.01) scale(1.0090,1)" font-family="Liberation Sans" font-size="59.09" font-weight="bold" font-style="normal" fill="#000" >ns</text>
<text transform="translate(353.92,2175.41) scale(1.0034,1)" font-family="Liberation Sans" font-size="59.46" font-weight="bold" font-style="normal" fill="#000" >Plo</text>
<text transform="translate(376.86,1814.14) scale(1.0014,1)" font-family="Liberation Sans" font-size="35.64" font-weight="normal" font-style="italic" fill="#000" >ns</text>
<text transform="translate(438.27,1783.15) scale(1.0142,1)" font-family="Liberation Sans" font-size="35.09" font-weight="normal" font-style="italic" fill="#000" >ns</text>
<text transform="translate(556.50,1562.90) scale(0.9736,1)" font-family="Liberation Sans" font-size="80.58" font-weight="bold" font-style="normal" fill="#000" >H.-</text>
<text transform="translate(782.62,1614.37) scale(0.9323,1)" font-family="Liberation Sans" font-size="63.38" font-weight="bold" font-style="italic" fill="#000" >IL-8</text>
<text transform="translate(556.53,1655.25) scale(0.9841,1)" font-family="Liberation Sans" font-size="35.49" font-weight="bold" font-style="normal" fill="#000" >30</text>
<text transform="translate(556.17,1806.46) scale(1.0304,1)" font-family="Liberation Sans" font-size="34.23" font-weight="bold" font-style="normal" fill="#000" >20</text>
<text transform="translate(556.77,1957.86) scale(0.9894,1)" font-family="Liberation Sans" font-size="34.23" font-weight="bold" font-style="normal" fill="#000" >10</text>
<text transform="translate(575.44,2109.95) scale(0.9609,1)" font-family="Liberation Sans" font-size="35.49" font-weight="bold" font-style="normal" fill="#000" >0</text>
<text transform="translate(695.11,2172.90) scale(1.0045,1)" font-family="Liberation Sans" font-size="59.64" font-weight="bold" font-style="normal" fill="#000" >ns</text>
<text transform="translate(881.10,2171.41) scale(1.0150,1)" font-family="Liberation Sans" font-size="59.18" font-weight="bold" font-style="normal" fill="#000" >Plo</text>
<path d="M940.65,1803.67L940.65,1796.85M940.65,1803.67L935.15,1802.06M940.65,1803.67L946.15,1802.06M940.65,1803.67L937.35,1809.25M940.65,1803.67L943.95,1809.25" stroke="#000" stroke-width="2.9" stroke-linecap="round" fill="none"/>
<path d="M955.65,1803.67L955.65,1796.85M955.65,1803.67L950.15,1802.06M955.65,1803.67L961.15,1802.06M955.65,1803.67L952.35,1809.25M955.65,1803.67L958.95,1809.25" stroke="#000" stroke-width="2.9" stroke-linecap="round" fill="none"/>
<path d="M970.65,1803.67L970.65,1796.85M970.65,1803.67L965.15,1802.06M970.65,1803.67L976.15,1802.06M970.65,1803.67L967.35,1809.25M970.65,1803.67L973.95,1809.25" stroke="#000" stroke-width="2.9" stroke-linecap="round" fill="none"/>
<text transform="translate(1068.96,1568.20) scale(1.0061,1)" font-family="Liberation Sans" font-size="80.14" font-weight="bold" font-style="normal" fill="#000" >I.-</text>
<text transform="translate(1215.89,1613.27) scale(0.9479,1)" font-family="Liberation Sans" font-size="63.38" font-weight="bold" font-style="italic" fill="#000" >VEGF</text>
<text transform="translate(1043.92,1654.65) scale(0.9947,1)" font-family="Liberation Sans" font-size="35.21" font-weight="bold" font-style="normal" fill="#000" >30</text>
<text transform="translate(1043.56,1806.46) scale(1.0332,1)" font-family="Liberation Sans" font-size="34.23" font-weight="bold" font-style="normal" fill="#000" >20</text>
<text transform="translate(1043.05,1957.86) scale(1.0472,1)" font-family="Liberation Sans" font-size="34.23" font-weight="bold" font-style="normal" fill="#000" >10</text>
<text transform="translate(1061.99,2109.94) scale(1.0575,1)" font-family="Liberation Sans" font-size="35.63" font-weight="bold" font-style="normal" fill="#000" >0</text>
<text transform="translate(1181.21,2169.91) scale(1.0153,1)" font-family="Liberation Sans" font-size="58.91" font-weight="bold" font-style="normal" fill="#000" >ns</text>
<text transform="translate(1367.52,2171.11) scale(1.0126,1)" font-family="Liberation Sans" font-size="58.91" font-weight="bold" font-style="normal" fill="#000" >Plo</text>
</g>
<polygon points="377.60,103.89 389.25,103.89 390.97,94.68 377.60,94.68" fill="#fff"/>
<polygon points="397.47,103.89 410.70,103.89 410.70,94.68 399.20,94.68" fill="#fff"/>
<rect x="48.44" y="462.63" width="7.04" height="5.20" fill="#fff"/>
<rect x="60.25" y="462.63" width="5.91" height="5.20" fill="#fff"/>
<rect x="278.05" y="219.49" width="8.72" height="6.42" fill="#fff"/>
<rect x="292.66" y="219.49" width="7.32" height="6.42" fill="#fff"/>
<rect x="557.65" y="371.62" width="6.92" height="5.21" fill="#fff"/>
<rect x="569.25" y="371.62" width="5.81" height="5.21" fill="#fff"/>
<rect x="557.66" y="455.67" width="6.92" height="5.16" fill="#fff"/>
<rect x="569.26" y="455.67" width="5.81" height="5.16" fill="#fff"/>
<rect x="1043.91" y="463.18" width="7.29" height="5.14" fill="#fff"/>
<rect x="1056.12" y="463.18" width="6.12" height="5.14" fill="#fff"/>
<rect x="48.03" y="1208.87" width="7.08" height="5.05" fill="#fff"/>
<rect x="59.90" y="1208.87" width="5.95" height="5.05" fill="#fff"/>
<rect x="286.69" y="975.65" width="8.83" height="6.47" fill="#fff"/>
<rect x="301.48" y="975.65" width="7.41" height="6.47" fill="#fff"/>
<rect x="557.79" y="1208.23" width="6.72" height="5.10" fill="#fff"/>
<rect x="569.05" y="1208.23" width="5.64" height="5.10" fill="#fff"/>
<rect x="1044.10" y="1208.23" width="7.31" height="5.10" fill="#fff"/>
<rect x="1056.34" y="1208.23" width="6.13" height="5.10" fill="#fff"/>
<rect x="48.03" y="1953.78" width="7.09" height="5.14" fill="#fff"/>
<rect x="59.90" y="1953.78" width="5.95" height="5.14" fill="#fff"/>
<rect x="282.81" y="1711.68" width="8.86" height="6.64" fill="#fff"/>
<rect x="297.66" y="1711.68" width="7.44" height="6.64" fill="#fff"/>
<rect x="557.76" y="1953.43" width="6.90" height="5.10" fill="#fff"/>
<rect x="569.33" y="1953.43" width="5.80" height="5.10" fill="#fff"/>
<rect x="1044.10" y="1953.43" width="7.31" height="5.10" fill="#fff"/>
<rect x="1056.34" y="1953.43" width="6.13" height="5.10" fill="#fff"/>
</g></svg></body></html>
